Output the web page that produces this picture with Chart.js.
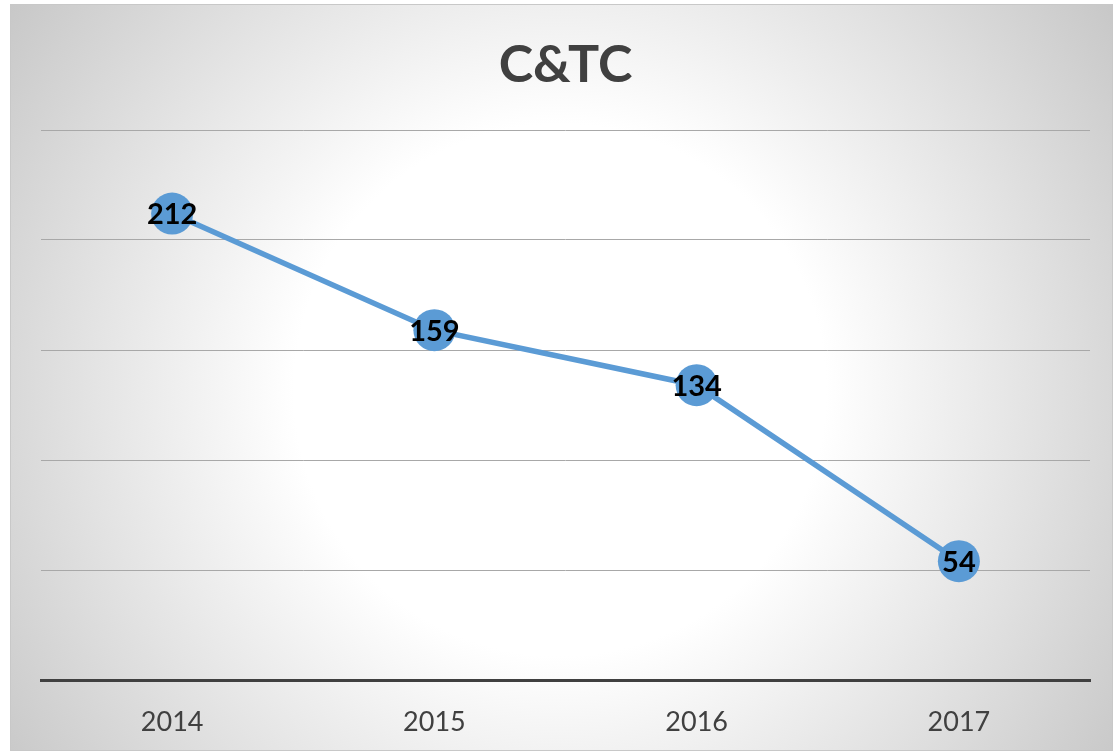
<!DOCTYPE html>
<html>
<head>
<meta charset="utf-8">
<script src="https://cdn.jsdelivr.net/npm/chart.js@4"></script>
<style>
  html, body { margin: 0; padding: 0; background: #ffffff; }
  #wrap { width: 1115px; height: 754px; }
</style>
</head>
<body>
<div id="wrap"><canvas id="chart" width="1115" height="754"></canvas></div>
<script>
// Dados do gráfico
const years = ['2014', '2015', '2016', '2017'];
const values = [212, 159, 134, 54];
const yTicks = [0, 50, 100, 150, 200, 250];

// Fundo com gradiente radial e borda
const backgroundPlugin = {
    id: 'fundo',
    beforeDraw(chart) {
        const ctx = chart.ctx;
        const x0 = 10, y0 = 4, x1 = 1113, y1 = 751;
        const g = ctx.createRadialGradient(560, 390, 0, 560, 390, 700);
        g.addColorStop(0, '#ffffff');
        g.addColorStop(0.38, '#ffffff');
        g.addColorStop(1, '#c4c4c4');
        ctx.save();
        ctx.fillStyle = g;
        ctx.fillRect(x0, y0, x1 - x0, y1 - y0);
        ctx.strokeStyle = '#c8c8c8';
        ctx.lineWidth = 1;
        ctx.strokeRect(x0 + 0.5, y0 + 0.5, x1 - x0 - 1, y1 - y0 - 1);
        ctx.restore();
    }
};

// Rótulos de valores centrados nos pontos
const labelPlugin = {
    id: 'rotulos',
    afterDatasetsDraw(chart) {
        const ctx = chart.ctx;
        const meta = chart.getDatasetMeta(0);
        ctx.save();
        ctx.font = 'bold 29px Lato';
        ctx.fillStyle = '#000000';
        ctx.textAlign = 'center';
        ctx.textBaseline = 'middle';
        meta.data.forEach((pt, i) => {
            ctx.fillText(String(values[i]), pt.x, pt.y + 1);
        });
        ctx.restore();
    }
};

new Chart(document.getElementById('chart'), {
    type: 'line',
    data: {
        labels: years,
        datasets: [{
            data: values,
            borderColor: '#5b9bd5',
            backgroundColor: '#5b9bd5',
            borderWidth: 5.5,
            pointRadius: 21,
            pointHoverRadius: 21,
            pointBorderWidth: 0,
            tension: 0,
            clip: false
        }]
    },
    options: {
        responsive: false,
        animation: false,
        layout: { padding: { left: 41, right: 25, top: 0, bottom: 0 } },
        plugins: {
            legend: { display: false },
            tooltip: { enabled: false },
            title: {
                display: true,
                text: 'C&TC',
                color: '#404040',
                font: { family: 'Lato', size: 52, weight: 'bold', lineHeight: 1.2 },
                padding: { top: 34, bottom: 33.6 }
            }
        },
        scales: {
            x: {
                offset: true,
                grid: { display: false, offset: true },
                border: { display: true, color: '#404040', width: 3 },
                ticks: {
                    color: '#404040',
                    font: { family: 'Lato', size: 27 },
                    padding: 18
                },
                afterFit(scale) { scale.height = 754 - 680; }
            },
            y: {
                min: 0,
                max: 250,
                afterBuildTicks(scale) { scale.ticks = yTicks.map(v => ({ value: v })); },
                ticks: { display: false },
                grid: { color: '#a8a8a8', lineWidth: 1, drawTicks: false },
                border: { display: false },
                afterFit(scale) { scale.width = 0; }
            }
        }
    },
    plugins: [backgroundPlugin, labelPlugin]
});
</script>
</body>
</html>
